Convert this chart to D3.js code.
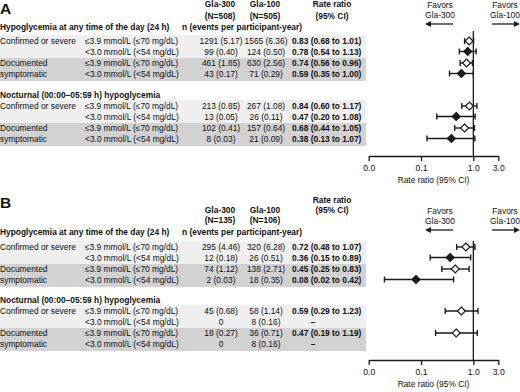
<!DOCTYPE html>
<html>
<head>
<meta charset="utf-8">
<script src="https://cdn.jsdelivr.net/npm/d3@7"></script>
<style>
  body { margin: 0; background: #fff; }
  svg text { font-family: "Liberation Sans", Arial, sans-serif; font-size: 8.4px; fill: #111; }
  .bold { font-weight: bold; }
</style>
</head>
<body>
<div id="chart-area"></div>
<script>

// Data
let periods = ["Hypoglycemia at any time of the day (24 h)", "Nocturnal (00:00\u201305:59 h) hypoglycemia"];
let eventTypes = [["Confirmed or severe"], ["Documented", "symptomatic"]];
let thresholds = ["\u22643.9 mmol/L (\u226470 mg/dL)", "<3.0 mmol/L (<54 mg/dL)"];
let tickValues = [0.01, 0.1, 1, 3];

// Panel A
let nA300 = [1291, 99, 461, 43, 213, 13, 102, 8];
let rateA300 = [5.17, 0.40, 1.85, 0.17, 0.85, 0.05, 0.41, 0.03];
let nA100 = [1565, 124, 630, 71, 267, 26, 157, 21];
let rateA100 = [6.36, 0.50, 2.56, 0.29, 1.08, 0.11, 0.64, 0.09];
let ratioA = [0.83, 0.78, 0.74, 0.59, 0.84, 0.47, 0.68, 0.38];
let lowA = [0.68, 0.54, 0.56, 0.35, 0.60, 0.20, 0.44, 0.13];
let highA = [1.01, 1.13, 0.96, 1.00, 1.17, 1.08, 1.05, 1.07];

// Panel B
let nB300 = [295, 12, 74, 2, 45, 0, 18, 0];
let rateB300 = [4.46, 0.18, 1.12, 0.03, 0.68, null, 0.27, null];
let nB100 = [320, 26, 138, 18, 58, 8, 36, 8];
let rateB100 = [6.28, 0.51, 2.71, 0.35, 1.14, 0.16, 0.71, 0.16];
let ratioB = [0.72, 0.36, 0.45, 0.08, 0.59, null, 0.47, null];
let lowB = [0.48, 0.15, 0.25, 0.02, 0.29, null, 0.19, null];
let highB = [1.07, 0.89, 0.83, 0.42, 1.23, null, 1.19, null];

let panels = [
  {label: "A", N300: 508, N100: 505, n300: nA300, r300: rateA300, n100: nA100, r100: rateA100,
   ratio: ratioA, low: lowA, high: highA,
   letterY: 14, top: 0, hdrY: 7, hdrGap: 11.5, rrY: 7,
   secHead: [27, 95], secRow: [41, 106], refTop: 31, axisY: 156},
  {label: "B", N300: 135, N100: 106, n300: nB300, r300: rateB300, n100: nB100, r100: rateB100,
   ratio: ratioB, low: lowB, high: highB,
   letterY: 208, top: 206, hdrY: 213, hdrGap: 9.5, rrY: 203,
   secHead: [232, 300], secRow: [247, 311], refTop: 241, axisY: 360}
];

let width = 520, height = 392;

let svg = d3.select("#chart-area").append("svg")
    .attr("width", width)
    .attr("height", height);

// log scale for rate ratio
let x = d3.scaleLog()
    .domain([0.01, 3])
    .range([368.7, 498.3]);

let rowOffsets = [0, 10.5, 22, 32.5];
let fmt = d3.format(".2f");
let ink = "#1b1b1b";

svg.append("defs").append("marker")
    .attr("id", "arrow")
    .attr("viewBox", "0 0 10 10")
    .attr("refX", 5).attr("refY", 5)
    .attr("markerWidth", 4.5).attr("markerHeight", 4.5)
    .attr("orient", "auto-start-reverse")
  .append("path")
    .attr("d", "M0,0 L10,5 L0,10 Z")
    .attr("fill", ink);

panels.forEach(function(p) {

  let g = svg.append("g");

  // row positions
  let rowY = i => p.secRow[Math.floor(i / 4)] + rowOffsets[i % 4];

  // background bands
  [0, 1].forEach(function(s) {
    let r0 = p.secRow[s];
    g.append("rect")
      .attr("x", 0).attr("y", r0 - 6)
      .attr("width", 366).attr("height", 23)
      .attr("fill", "#f0f0f0");
    g.append("rect")
      .attr("x", 0).attr("y", r0 + 17)
      .attr("width", 366).attr("height", 23)
      .attr("fill", "#d2d2d2");
  });

  // panel letter
  g.append("text")
    .attr("class", "bold")
    .attr("x", 0).attr("y", p.letterY)
    .style("font-size", "15.5px")
    .text(p.label);

  // column headers
  let hdr = [
    {x: 220, t: ["Gla-300", "(N=" + p.N300 + ")"], y: p.hdrY},
    {x: 265, t: ["Gla-100", "(N=" + p.N100 + ")"], y: p.hdrY},
    {x: 332, t: ["Rate ratio", "(95% CI)"], y: p.rrY}
  ];
  hdr.forEach(function(h) {
    h.t.forEach(function(t, k) {
      g.append("text")
        .attr("class", "bold")
        .attr("x", h.x).attr("y", h.y + k * p.hdrGap)
        .attr("text-anchor", "middle")
        .text(t);
    });
  });

  // section headers
  periods.forEach(function(name, s) {
    g.append("text")
      .attr("class", "bold")
      .attr("x", 0).attr("y", p.secHead[s] + 3)
      .text(name);
  });
  g.append("text")
    .attr("class", "bold")
    .attr("x", 182).attr("y", p.secHead[0] + 3)
    .text("n (events per participant-year)");

  // row labels
  for (let i = 0; i < 8; i++) {
    let y = rowY(i) + 3;
    if (i % 2 === 0) {
      let lines = eventTypes[(i % 4) / 2];
      lines.forEach(function(t, k) {
        g.append("text")
          .attr("x", 0).attr("y", y + k * 10.5).text(t);
      });
    }
    g.append("text")
      .attr("x", 85).attr("y", y).text(thresholds[i % 2]);

    g.append("text")
      .attr("x", 221).attr("y", y)
      .attr("text-anchor", "middle")
      .text(p.r300[i] === null ? p.n300[i] : p.n300[i] + " (" + fmt(p.r300[i]) + ")");
    g.append("text")
      .attr("x", 266).attr("y", y)
      .attr("text-anchor", "middle")
      .text(p.r100[i] === null ? p.n100[i] : p.n100[i] + " (" + fmt(p.r100[i]) + ")");

    if (p.ratio[i] === null) {
      g.append("text").attr("class", "bold")
        .attr("x", 313).attr("y", y)
        .attr("text-anchor", "middle")
        .text("\u2013");
    } else {
      g.append("text").attr("class", "bold")
        .attr("x", 292).attr("y", y)
        .text(fmt(p.ratio[i]) + " (" + fmt(p.low[i]) + " to " + fmt(p.high[i]) + ")");
    }
  }

  // favors labels
  let fav = [{x: 440, t: "Gla-300", dir: -1}, {x: 505, t: "Gla-100", dir: 1}];
  fav.forEach(function(f) {
    g.append("text").attr("x", f.x).attr("y", p.top + 8)
      .attr("text-anchor", "middle").text("Favors");
    g.append("text").attr("x", f.x).attr("y", p.top + 18)
      .attr("text-anchor", "middle").text(f.t);
    g.append("line")
      .attr("x1", f.x - f.dir * 13).attr("x2", f.x + f.dir * 12)
      .attr("y1", p.top + 24).attr("y2", p.top + 24)
      .attr("stroke", ink).attr("stroke-width", 1.3)
      .attr("marker-end", "url(#arrow)");
  });

  // reference line at 1
  g.append("line")
    .attr("x1", x(1)).attr("x2", x(1))
    .attr("y1", p.refTop).attr("y2", p.axisY)
    .attr("stroke", ink).attr("stroke-width", 1.3);

  // axis
  let axis = d3.axisBottom(x)
    .tickValues(tickValues)
    .tickFormat(d3.format(".1f"))
    .tickSize(5)
    .tickSizeOuter(0)
    .tickPadding(4);

  let ag = g.append("g")
    .attr("transform", "translate(0," + p.axisY + ")")
    .call(axis);
  ag.select(".domain").attr("stroke", ink).attr("stroke-width", 1.3);
  ag.selectAll(".tick line").attr("stroke", ink).attr("stroke-width", 1.3);
  ag.selectAll(".tick text")
    .attr("fill", "#111")
    .style("font-family", "\"Liberation Sans\", Arial, sans-serif")
    .style("font-size", "8.6px");

  g.append("text")
    .attr("x", (x.range()[0] + x.range()[1]) / 2)
    .attr("y", p.axisY + 27)
    .attr("text-anchor", "middle")
    .text("Rate ratio (95% CI)");

  // confidence intervals and point estimates
  let pts = d3.range(8).filter(i => p.ratio[i] !== null);

  let ci = g.selectAll(".ci").data(pts).enter().append("g").attr("class", "ci");
  ci.append("line")
    .attr("x1", i => x(p.low[i])).attr("x2", i => x(p.high[i]))
    .attr("y1", i => rowY(i)).attr("y2", i => rowY(i))
    .attr("stroke", ink).attr("stroke-width", 1.4);
  ci.append("line")
    .attr("x1", i => x(p.low[i])).attr("x2", i => x(p.low[i]))
    .attr("y1", i => rowY(i) - 3).attr("y2", i => rowY(i) + 3)
    .attr("stroke", ink).attr("stroke-width", 1.4);
  ci.append("line")
    .attr("x1", i => x(p.high[i])).attr("x2", i => x(p.high[i]))
    .attr("y1", i => rowY(i) - 3).attr("y2", i => rowY(i) + 3)
    .attr("stroke", ink).attr("stroke-width", 1.4);

  g.selectAll(".pt").data(pts).enter().append("path")
    .attr("class", "pt")
    .attr("transform", i => "translate(" + x(p.ratio[i]) + "," + rowY(i) + ")")
    .attr("d", "M0,-4L4,0L0,4L-4,0Z")
    .attr("fill", i => i % 2 === 0 ? "#fff" : ink)
    .attr("stroke", ink)
    .attr("stroke-width", 1.2);
});

</script>
</body>
</html>
